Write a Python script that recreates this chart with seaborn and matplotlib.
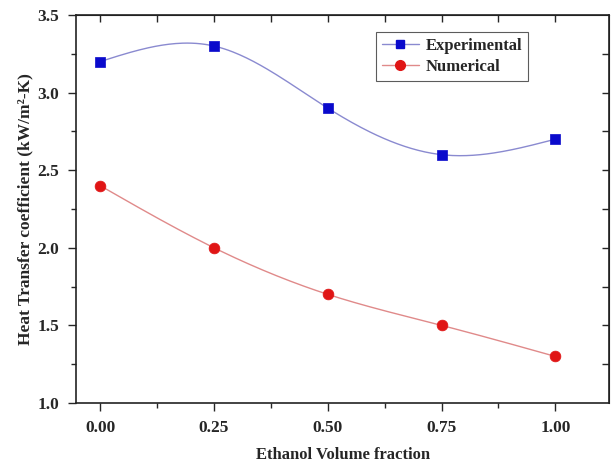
import numpy as np
import pandas as pd
import matplotlib
matplotlib.use("Agg")
import matplotlib.pyplot as plt
from matplotlib.lines import Line2D
import seaborn as sns

fraction = [0.00, 0.25, 0.50, 0.75, 1.00]
experimental = [3.2, 3.3, 2.9, 2.6, 2.7]
numerical = [2.4, 2.0, 1.7, 1.5, 1.3]
x_ticks = [0.00, 0.25, 0.50, 0.75, 1.00]
y_ticks = [1.0, 1.5, 2.0, 2.5, 3.0, 3.5]


def natural_spline(x, y, n=200):
    x = np.asarray(x, float); y = np.asarray(y, float)
    k = len(x); h = np.diff(x)
    A = np.zeros((k, k)); b = np.zeros(k)
    A[0, 0] = A[-1, -1] = 1
    for i in range(1, k - 1):
        A[i, i - 1] = h[i - 1]; A[i, i] = 2 * (h[i - 1] + h[i]); A[i, i + 1] = h[i]
        b[i] = 6 * ((y[i + 1] - y[i]) / h[i] - (y[i] - y[i - 1]) / h[i - 1])
    M = np.linalg.solve(A, b)
    xs = np.linspace(x[0], x[-1], n)
    idx = np.clip(np.searchsorted(x, xs) - 1, 0, k - 2)
    x0, x1 = x[idx], x[idx + 1]; hh = x1 - x0
    ys = (M[idx] * (x1 - xs) ** 3 / (6 * hh) + M[idx + 1] * (xs - x0) ** 3 / (6 * hh)
          + (y[idx] / hh - M[idx] * hh / 6) * (x1 - xs)
          + (y[idx + 1] / hh - M[idx + 1] * hh / 6) * (xs - x0))
    return xs, ys


sns.set_style("ticks")
plt.rcParams["font.family"] = ["Liberation Serif", "DejaVu Serif"]
plt.rcParams["font.weight"] = "bold"

fig = plt.figure(figsize=(6.14, 4.63), dpi=100)
ax = fig.add_axes([0.124, 0.1296, 0.868, 0.838])

blue_line = "#8a8ad0"
red_line = "#e08a8a"
blue_mark = "#0a0acc"
red_mark = "#e01515"

xs, ye = natural_spline(fraction, experimental)
_, yn = natural_spline(fraction, numerical)
sns.lineplot(x=xs, y=ye, ax=ax, color=blue_line, lw=1.0, sort=False)
sns.lineplot(x=xs, y=yn, ax=ax, color=red_line, lw=1.0, sort=False)

df = pd.DataFrame({"x": fraction, "exp": experimental, "num": numerical})
sns.scatterplot(data=df, x="x", y="exp", ax=ax, marker="s", s=50, color=blue_mark,
                edgecolor=blue_mark, linewidth=0.5, zorder=5)
sns.scatterplot(data=df, x="x", y="num", ax=ax, marker="o", s=60, color=red_mark,
                edgecolor=red_mark, linewidth=0.5, zorder=5)

ax.set_xlim(-0.053, 1.118)
ax.set_ylim(1.0, 3.5)
ax.set_xticks(x_ticks)
ax.set_xticklabels([f"{v:.2f}" for v in x_ticks])
ax.set_yticks(y_ticks)
ax.set_yticklabels([f"{v:.1f}" for v in y_ticks])
ax.set_xticks(np.arange(0.125, 1.1, 0.25), minor=True)
ax.set_yticks(np.arange(1.25, 3.5, 0.5), minor=True)

ax.tick_params(which="both", direction="out", top=False, right=False, width=1.0)
ax.tick_params(which="major", length=6, labelsize=12.5, pad=6)
ax.tick_params(which="minor", length=3.5)
for lab in ax.get_xticklabels() + ax.get_yticklabels():
    lab.set_fontweight("bold")

# inward mirror ticks on top/right
secx = ax.secondary_xaxis("top")
secx.set_xticks(x_ticks + list(np.arange(0.125, 1.1, 0.25)))
secx.tick_params(direction="in", length=5, labelsize=0, labeltop=False, width=1.0)
secy = ax.secondary_yaxis("right")
secy.set_yticks(list(np.arange(1.25, 3.5, 0.25)))
secy.tick_params(direction="in", length=5, labelright=False, width=1.0)

for sp in ax.spines.values():
    sp.set_linewidth(1.2)
    sp.set_color("#222222")

ax.set_xlabel("Ethanol Volume fraction", fontsize=12, fontweight="bold", labelpad=8)
ax.set_ylabel("Heat Transfer coefficient (kW/m²-K)", fontsize=12.5, fontweight="bold", labelpad=3)

handles = [
    Line2D([], [], color=blue_line, lw=1.0, marker="s", markersize=6,
           markerfacecolor=blue_mark, markeredgecolor=blue_mark),
    Line2D([], [], color=red_line, lw=1.0, marker="o", markersize=7,
           markerfacecolor=red_mark, markeredgecolor=red_mark),
]
leg = ax.legend(handles, ["Experimental", "Numerical"], loc="upper left",
                bbox_to_anchor=(0.563, 0.956), borderaxespad=0, frameon=True, fancybox=False,
                edgecolor="#333333", prop={"weight": "bold", "size": 12},
                handlelength=2.2, borderpad=0.35, labelspacing=0.3, handletextpad=0.4)
leg.get_frame().set_linewidth(0.8)

fig.savefig("out.png", dpi=100)
